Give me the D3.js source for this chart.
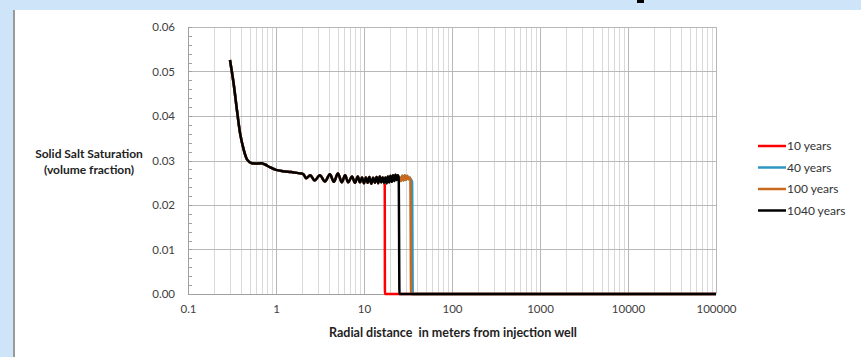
<!DOCTYPE html>
<html>
<head>
<meta charset="utf-8">
<script src="https://cdn.jsdelivr.net/npm/d3@7"></script>
<style>
  body { margin: 0; background: #cde4f9; }
  svg { display: block; }
</style>
</head>
<body>
<svg id="chart" width="861" height="357"></svg>
<script>
// radial distance (m) vs solid salt saturation
// shared near-well profile (all runs lie on top of each other here)
var nearWell = [
  [0.30, 0.0526], [0.33, 0.0473], [0.36, 0.0413], [0.39, 0.0362], [0.43, 0.0324],
  [0.47, 0.0302], [0.53, 0.0294], [0.60, 0.0293], [0.68, 0.0294], [0.75, 0.0291],
  [0.85, 0.0285], [1.0, 0.0279], [1.2, 0.0276], [1.5, 0.0274], [1.87, 0.0271],
  [2.05, 0.0269], [2.2, 0.0260], [2.45, 0.0267], [2.75, 0.0255], [3.15, 0.0267],
  [3.6, 0.0253], [4.1, 0.0269], [4.55, 0.0252], [5.05, 0.0271], [5.6, 0.0251],
  [6.1, 0.0267], [6.6, 0.0251], [7.3, 0.0264], [7.9, 0.0250], [8.5, 0.0264],
  [9.0, 0.0251], [9.5, 0.0262], [10.0, 0.0249], [10.5, 0.0262], [11.0, 0.0250],
  [11.5, 0.0263], [12.1, 0.0248], [12.7, 0.0261], [13.3, 0.0250], [13.9, 0.0263],
  [14.5, 0.0249], [15.1, 0.0264], [15.7, 0.0251], [16.3, 0.0262], [16.9, 0.0250]
];
var midProfile = [
  [17.5, 0.0262], [18.1, 0.0249], [18.7, 0.0264], [19.3, 0.0251], [20.0, 0.0266],
  [20.7, 0.0252], [21.4, 0.0267], [22.1, 0.0254], [22.8, 0.0268], [23.5, 0.0256],
  [24.2, 0.0267], [24.8, 0.0262]
];
var lateProfile = [
  [25.5, 0.0262], [26.3, 0.0254], [27.2, 0.0266], [28.1, 0.0255], [29.0, 0.0267],
  [30.0, 0.0256], [31.0, 0.0266], [32.0, 0.0258], [33.0, 0.0262], [33.6, 0.0259]
];
var front10 = [[17.2, 0.0245], [17.3, 0], [100000, 0]];
var front40 = [[34.5, 0.0256], [35.2, 0.0252], [35.8, 0], [100000, 0]];
var front100 = [[34.3, 0], [100000, 0]];
var front1040 = [[25.3, 0], [100000, 0]];

var seriesNames = ["10 years", "40 years", "100 years", "1040 years"];
var seriesColors = ["#ff0000", "#2e96c3", "#c8691d", "#000000"];
var seriesData = [
  nearWell.concat(front10),
  nearWell.concat(midProfile, lateProfile, front40),
  nearWell.concat(midProfile, lateProfile, front100),
  nearWell.concat(midProfile, front1040)
];
var yTicks = [0, 0.01, 0.02, 0.03, 0.04, 0.05, 0.06];
var xTickLabels = ["0.1", "1", "10", "100", "1000", "10000", "100000"];

var svg = d3.select("#chart");
var font = "Lato, 'Open Sans', sans-serif";

// white panel
svg.append("rect").attr("x", 14).attr("y", 10).attr("width", 847).attr("height", 347).attr("fill", "#fff");
svg.append("line").attr("x1", 14).attr("x2", 14).attr("y1", 10).attr("y2", 357)
  .attr("stroke", "#9a9a9a").attr("stroke-width", 2);
// cut-off title fragment at the top
svg.append("rect").attr("x", 637).attr("y", 0).attr("width", 7).attr("height", 3).attr("fill", "#000");

var margin = {left: 188, right: 716, top: 27, bottom: 294};
var x = d3.scaleLog().domain([0.1, 100000]).range([margin.left, margin.right]);
var y = d3.scaleLinear().domain([0, 0.06]).range([margin.bottom, margin.top]);

// vertical grid, minor then decades
var allX = x.ticks();
var isDecade = function (d) { return Math.abs(Math.log10(d) - Math.round(Math.log10(d))) < 1e-9; };
svg.append("g").selectAll("line").data(allX.filter(function (d) { return !isDecade(d); }))
  .join("line")
  .attr("x1", function (d) { return Math.round(x(d)) + 0.5; })
  .attr("x2", function (d) { return Math.round(x(d)) + 0.5; })
  .attr("y1", margin.top).attr("y2", margin.bottom)
  .attr("stroke", "#d9d9d9").attr("stroke-width", 1);
svg.append("g").selectAll("line").data(allX.filter(isDecade))
  .join("line")
  .attr("x1", function (d) { return Math.round(x(d)) + 0.5; })
  .attr("x2", function (d) { return Math.round(x(d)) + 0.5; })
  .attr("y1", margin.top).attr("y2", margin.bottom)
  .attr("stroke", "#b8b8b8").attr("stroke-width", 1);

// horizontal grid
svg.append("g").selectAll("line").data(yTicks)
  .join("line")
  .attr("x1", margin.left).attr("x2", margin.right)
  .attr("y1", function (d) { return Math.round(y(d)) + 0.5; })
  .attr("y2", function (d) { return Math.round(y(d)) + 0.5; })
  .attr("stroke", "#b8b8b8").attr("stroke-width", 1);

// y axis with minor ticks
var minorY = d3.range(0, 31).map(function (i) { return i * 0.002; });
svg.append("g").selectAll("line").data(minorY)
  .join("line")
  .attr("x1", margin.left).attr("x2", margin.left + 4)
  .attr("y1", function (d) { return Math.round(y(d)) + 0.5; })
  .attr("y2", function (d) { return Math.round(y(d)) + 0.5; })
  .attr("stroke", "#a0a0a0");
svg.append("line").attr("x1", margin.left + 0.5).attr("x2", margin.left + 0.5)
  .attr("y1", margin.top).attr("y2", margin.bottom).attr("stroke", "#a0a0a0");
svg.append("line").attr("x1", margin.left).attr("x2", margin.right)
  .attr("y1", margin.bottom + 0.5).attr("y2", margin.bottom + 0.5).attr("stroke", "#a0a0a0");

var yAxis = svg.append("g")
  .attr("transform", "translate(" + margin.left + ",0)")
  .call(d3.axisLeft(y).tickValues(yTicks).tickFormat(d3.format(".2f")).tickSize(0).tickPadding(13));
yAxis.select(".domain").remove();
yAxis.selectAll("text").attr("font-family", font).attr("font-size", 11.5).attr("fill", "#404040");

var xAxis = svg.append("g")
  .attr("transform", "translate(0," + margin.bottom + ")")
  .call(d3.axisBottom(x).tickValues(xTickLabels.map(Number))
    .tickFormat(function (d, i) { return xTickLabels[i]; }).tickSize(0).tickPadding(11));
xAxis.select(".domain").remove();
xAxis.selectAll("text").attr("font-family", font).attr("font-size", 11.5).attr("fill", "#404040");

// axis titles
var yTitle = svg.append("text").attr("font-family", font).attr("font-size", 12)
  .attr("font-weight", "bold").attr("fill", "#222").attr("text-anchor", "middle");
yTitle.append("tspan").attr("x", 89).attr("y", 158).text("Solid Salt Saturation");
yTitle.append("tspan").attr("x", 89).attr("y", 174).text("(volume fraction)");
svg.append("text").attr("x", 453).attr("y", 337)
  .attr("font-family", font).attr("font-size", 12.5).attr("font-weight", "bold")
  .attr("fill", "#222").attr("text-anchor", "middle")
  .style("white-space", "pre")
  .text("Radial distance  in meters from injection well");

// series
var line = d3.line()
  .x(function (d) { return x(d[0]); })
  .y(function (d) { return y(d[1]); })
  .curve(d3.curveMonotoneX);
svg.append("g").selectAll("path").data(seriesData)
  .join("path")
  .attr("d", line)
  .attr("fill", "none")
  .attr("stroke", function (d, i) { return seriesColors[i]; })
  .attr("stroke-width", 2.5)
  .attr("stroke-linejoin", "round");

// legend
var legend = svg.append("g").selectAll("g").data(seriesNames)
  .join("g")
  .attr("transform", function (d, i) { return "translate(758," + (146 + i * 21.5) + ")"; });
legend.append("line").attr("x1", 0).attr("x2", 28).attr("y1", 0).attr("y2", 0)
  .attr("stroke", function (d, i) { return seriesColors[i]; }).attr("stroke-width", 2.5);
legend.append("text").attr("x", 29).attr("y", 4)
  .attr("font-family", font).attr("font-size", 12).attr("fill", "#333")
  .text(function (d) { return d; });
</script>
</body>
</html>
